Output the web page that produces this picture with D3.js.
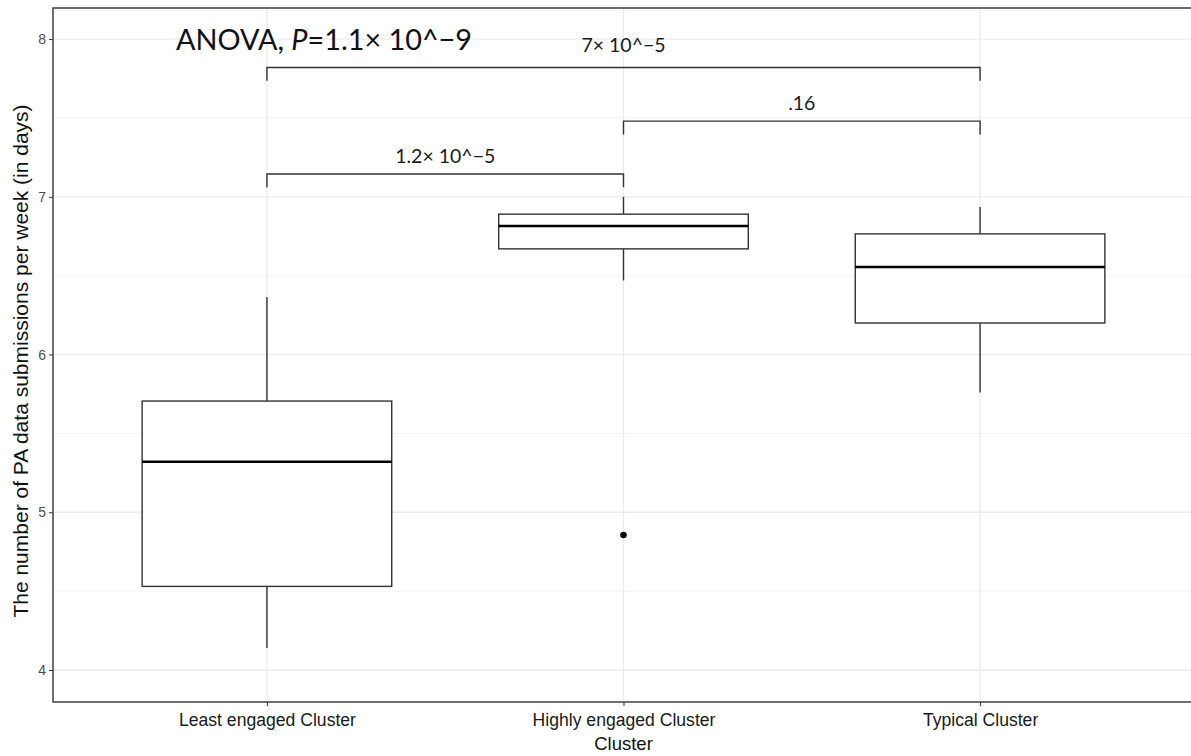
<!DOCTYPE html>
<html>
<head>
<meta charset="utf-8">
<script src="https://cdn.jsdelivr.net/npm/d3@7"></script>
<style>
  body { margin: 0; background: #fff; overflow: hidden; }
  svg { display: block; font-family: Lato, "Open Sans", sans-serif; }
</style>
</head>
<body>
<div id="chart"></div>
<script>
// box summary per cluster
const categories = ["Least engaged Cluster", "Highly engaged Cluster", "Typical Cluster"];
const lowerWhisker = [4.14, 6.47, 5.76];
const q1 = [4.53, 6.67, 6.20];
const median = [5.32, 6.815, 6.555];
const q3 = [5.705, 6.89, 6.765];
const upperWhisker = [6.365, 7.0, 6.935];
const outlierCluster = ["Highly engaged Cluster"];
const outlierValue = [4.856];

// pairwise comparisons
const compFrom = [0, 1, 0];
const compTo = [2, 2, 1];
const compHeight = [7.82, 7.48, 7.145];
const compLabel = ["7\u00d7 10^\u22125", ".16", "1.2\u00d7 10^\u22125"];

const yTicks = [4, 5, 6, 7, 8];
const yMinor = [4.5, 5.5, 6.5, 7.5];

const width = 1191, height = 756;
// panel runs slightly past the right edge of the picture
const margin = {top: 8, right: -3, bottom: 54, left: 53};
const innerW = width - margin.left - margin.right;
const innerH = height - margin.top - margin.bottom;

const svg = d3.select("#chart").append("svg")
  .attr("width", width)
  .attr("height", height);

const plot = svg.append("g")
  .attr("transform", `translate(${margin.left},${margin.top})`);

const x = d3.scalePoint()
  .domain(categories)
  .range([0, innerW])
  .padding(0.6);

const y = d3.scaleLinear()
  .domain([3.797, 8.197])
  .range([innerH, 0]);

const step = x.step();
const boxW = step * 0.7;

// grid
plot.selectAll(".minor")
  .data(yMinor)
  .enter().append("line")
  .attr("x1", 0).attr("x2", innerW)
  .attr("y1", d => y(d)).attr("y2", d => y(d))
  .attr("stroke", "#f2f2f2").attr("stroke-width", 1);

plot.selectAll(".major")
  .data(yTicks)
  .enter().append("line")
  .attr("x1", 0).attr("x2", innerW)
  .attr("y1", d => y(d)).attr("y2", d => y(d))
  .attr("stroke", "#ebebeb").attr("stroke-width", 1.3);

plot.selectAll(".vgrid")
  .data(categories)
  .enter().append("line")
  .attr("x1", d => x(d)).attr("x2", d => x(d))
  .attr("y1", 0).attr("y2", innerH)
  .attr("stroke", "#ebebeb").attr("stroke-width", 1.3);

// boxes
const boxes = categories.map((c, i) => ({
  c: c, lo: lowerWhisker[i], q1: q1[i], med: median[i], q3: q3[i], hi: upperWhisker[i]
}));

const g = plot.selectAll(".box")
  .data(boxes)
  .enter().append("g");

g.append("line")
  .attr("x1", d => x(d.c)).attr("x2", d => x(d.c))
  .attr("y1", d => y(d.hi)).attr("y2", d => y(d.q3))
  .attr("stroke", "#333").attr("stroke-width", 1.4);

g.append("line")
  .attr("x1", d => x(d.c)).attr("x2", d => x(d.c))
  .attr("y1", d => y(d.q1)).attr("y2", d => y(d.lo))
  .attr("stroke", "#333").attr("stroke-width", 1.4);

g.append("rect")
  .attr("x", d => x(d.c) - boxW / 2)
  .attr("y", d => y(d.q3))
  .attr("width", boxW)
  .attr("height", d => y(d.q1) - y(d.q3))
  .attr("fill", "#fff")
  .attr("stroke", "#333").attr("stroke-width", 1.4);

g.append("line")
  .attr("x1", d => x(d.c) - boxW / 2).attr("x2", d => x(d.c) + boxW / 2)
  .attr("y1", d => y(d.med)).attr("y2", d => y(d.med))
  .attr("stroke", "#000").attr("stroke-width", 2.6);

plot.selectAll(".outlier")
  .data(outlierValue)
  .enter().append("circle")
  .attr("cx", (d, i) => x(outlierCluster[i]))
  .attr("cy", d => y(d))
  .attr("r", 3.3)
  .attr("fill", "#000");

// comparison brackets
const comps = compLabel.map((l, i) => ({
  a: categories[compFrom[i]], b: categories[compTo[i]], h: compHeight[i], label: l
}));
const tickDrop = 0.085;

plot.selectAll(".bracket")
  .data(comps)
  .enter().append("path")
  .attr("d", d => `M${x(d.a)},${y(d.h - tickDrop)}V${y(d.h)}H${x(d.b)}V${y(d.h - tickDrop)}`)
  .attr("fill", "none")
  .attr("stroke", "#333").attr("stroke-width", 1.4);

plot.selectAll(".blabel")
  .data(comps)
  .enter().append("text")
  .attr("x", d => (x(d.a) + x(d.b)) / 2)
  .attr("y", (d, i) => y(d.h) - (i === 0 ? 15 : 11))
  .attr("text-anchor", "middle")
  .attr("font-size", 19.5)
  .attr("fill", "#1a1a1a")
  .text(d => d.label);

// ANOVA annotation
const anova = plot.append("text")
  .attr("x", 123)
  .attr("y", 42)
  .attr("font-size", 28.8)
  .attr("fill", "#111");
anova.append("tspan").text("ANOVA, ");
anova.append("tspan").attr("font-style", "italic").text("P");
anova.append("tspan").text("=1.1\u00d7 10^\u22129");

// panel border
plot.append("rect")
  .attr("width", innerW).attr("height", innerH)
  .attr("fill", "none")
  .attr("stroke", "#333").attr("stroke-width", 1.4);

// axes
const yAxis = plot.append("g")
  .call(d3.axisLeft(y).tickValues(yTicks).tickSize(4).tickFormat(d3.format("d")));
yAxis.select(".domain").remove();
yAxis.selectAll("line").attr("stroke", "#333");
yAxis.selectAll("text")
  .attr("fill", "#4d4d4d")
  .attr("font-size", 14)
  .attr("font-family", "Liberation Sans, Arial, sans-serif");

const xAxis = plot.append("g")
  .attr("transform", `translate(0,${innerH})`)
  .call(d3.axisBottom(x).tickSize(4));
xAxis.select(".domain").remove();
xAxis.selectAll("line").attr("stroke", "#333");
xAxis.selectAll("text")
  .attr("fill", "#1a1a1a")
  .attr("font-size", 17.6)
  .attr("dy", "0.95em");

svg.append("text")
  .attr("x", margin.left + x.step() * 1.6)
  .attr("y", 750)
  .attr("text-anchor", "middle")
  .attr("font-size", 18.5)
  .attr("font-family", "Liberation Sans, Arial, sans-serif")
  .attr("fill", "#111")
  .text("Cluster");

svg.append("text")
  .attr("transform", `translate(28,361) rotate(-90)`)
  .attr("text-anchor", "middle")
  .attr("font-size", 21)
  .attr("font-family", "Liberation Sans, Arial, sans-serif")
  .attr("fill", "#111")
  .text("The number of PA data submissions per week (in days)");
</script>
</body>
</html>
